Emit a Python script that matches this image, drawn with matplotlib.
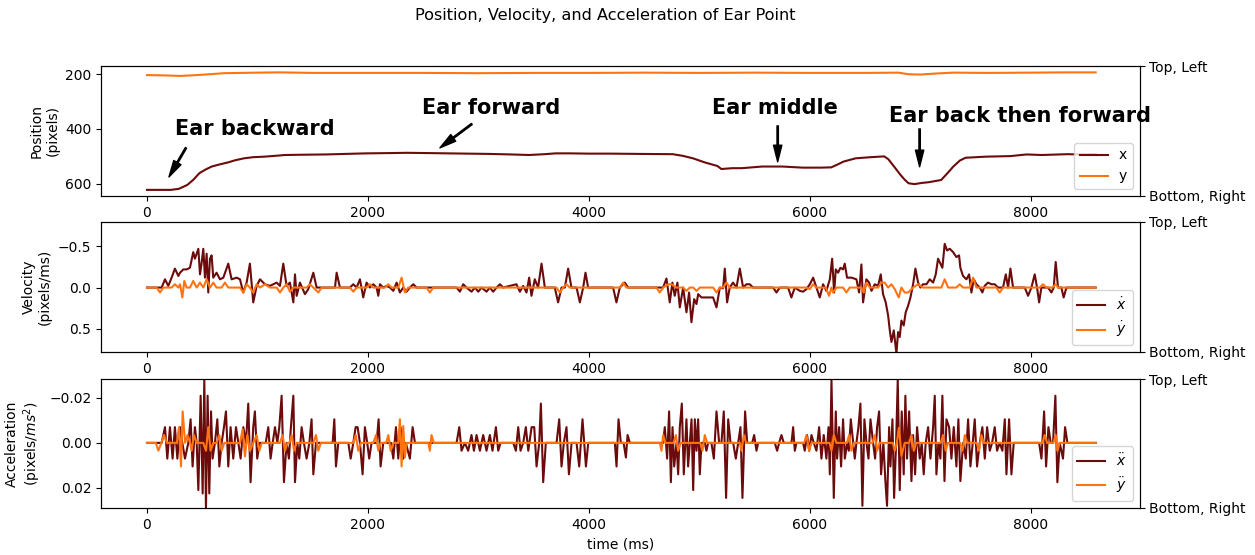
import matplotlib
matplotlib.use("Agg")
import matplotlib.pyplot as plt
import numpy as np

# position of the ear point (pixels)
pos_t = [0, 217, 290, 365, 420, 475, 530, 586, 650, 733, 800, 880, 960, 1064, 1160, 1249, 1400, 1617,
         1800, 1985, 2200, 2354, 2550, 2722, 2900, 3090, 3300, 3459, 3600, 3700, 3827, 4000, 4195, 4445,
         4760, 4850, 4943, 5050, 5164, 5200, 5300, 5385, 5569, 5753, 5937, 6100, 6195, 6250, 6306, 6416,
         6550, 6674, 6711, 6760, 6821, 6860, 6895, 6950, 7010, 7079, 7190, 7250, 7300, 7360, 7411, 7595,
         7816, 7963, 8100, 8331, 8450, 8589]
pos_x = [622, 622, 618, 604, 585, 561, 548, 537, 530, 522, 514, 507, 503, 501, 498, 495, 494, 493,
         491, 489, 488, 487, 488, 489, 490, 491, 493, 495, 492, 489, 489, 490, 490, 491,
         492, 498, 507, 522, 535, 546, 543, 543, 537, 537, 541, 541, 540, 530, 519, 507,
         503, 500, 510, 535, 567, 585, 598, 601, 597, 594, 586, 560, 537, 515, 505, 501,
         499, 493, 495, 492, 493, 492]
posy_t = [0, 150, 300, 450, 700, 1000, 1200, 1500, 2000, 2500, 3000, 3500, 4000, 4500, 5000, 5500,
          6000, 6500, 6800, 6900, 7000, 7150, 7300, 7600, 8000, 8300, 8589]
pos_y = [204, 205, 207, 204, 197, 195, 194, 196, 196, 196, 197, 196, 196, 195, 196, 195,
         196, 196, 195, 201, 202, 198, 195, 196, 195, 194, 194]

# velocity (pixels/ms)
vx_t = [0, 133, 163, 193, 223, 253, 284, 299, 329, 359, 389, 419, 434, 465, 480, 495, 510, 525, 540,
        555, 570, 585, 600, 630, 661, 691, 736, 766, 812, 842, 872, 902, 932, 962, 993, 1023, 1068,
        1113, 1143, 1174, 1204, 1234, 1264, 1294, 1325, 1340, 1355, 1385, 1430, 1460, 1506, 1536,
        1702, 1717, 1747, 1837, 1868, 1898, 1928, 1958, 1988, 2018, 2049, 2079, 2094, 2109, 2139,
        2169, 2200, 2230, 2260, 2290, 2320, 2350, 2380, 2411, 2441, 2803, 2833, 2863, 2893, 2938,
        2969, 2999, 3029, 3074, 3104, 3134, 3165, 3195, 3225, 3345, 3376, 3406, 3436, 3460, 3481,
        3511, 3541, 3572, 3602, 3692, 3722, 3753, 3783, 3813, 3843, 3889, 3919, 3949, 3970, 3994,
        4220, 4250, 4281, 4326, 4356, 4673, 4703, 4733, 4757, 4778, 4802, 4824, 4854, 4884, 4908,
        4929, 4954, 4975, 4990, 5020, 5050, 5095, 5125, 5156, 5186, 5216, 5231, 5252, 5276, 5306,
        5337, 5367, 5397, 5427, 5457, 5487, 5669, 5699, 5729, 5804, 5834, 5865, 5910, 5940, 5970,
        6001, 6031, 6061, 6091, 6121, 6151, 6182, 6203, 6221, 6236, 6257, 6278, 6302, 6317, 6338,
        6378, 6423, 6447, 6468, 6483, 6513, 6538, 6559, 6589, 6619, 6643, 6664, 6688, 6710, 6725,
        6740, 6761, 6785, 6800, 6815, 6830, 6851, 6869, 6891, 6912, 6936, 6957, 6981, 7002, 7026,
        7057, 7087, 7117, 7141, 7162, 7183, 7201, 7222, 7243, 7268, 7298, 7328, 7352, 7364, 7388,
        7419, 7443, 7464, 7485, 7509, 7539, 7563, 7584, 7614, 7645, 7675, 7705, 7750, 7775, 7796,
        7817, 7841, 7947, 7977, 8007, 8037, 8058, 8077, 8097, 8158, 8188, 8209, 8227, 8248, 8278,
        8299, 8324, 8589]
vx = [0, 0, -0.10, -0.02, -0.12, -0.23, -0.14, -0.18, -0.22, -0.22, -0.24, -0.43, -0.35, -0.47, -0.16,
      -0.30, -0.47, -0.12, -0.41, 0.06, -0.35, -0.39, -0.12, -0.18, -0.10, -0.12, -0.29, -0.10, -0.12,
      -0.10, 0.06, -0.06, -0.29, 0.18, -0.02, -0.10, -0.04, -0.02, -0.04, -0.06, -0.02, -0.29, -0.02,
      -0.06, 0.18, -0.16, 0.10, -0.06, 0.08, 0.02, -0.18, 0, 0, -0.18, 0, 0, -0.04, 0, -0.10, 0.12,
      -0.06, 0, -0.04, 0, 0.10, -0.04, 0, -0.02, 0, 0.04, -0.06, 0.06, 0, 0.05, 0, -0.04, 0, 0, 0.05,
      -0.04, 0, 0.05, 0, 0.05, 0, 0.05, 0, 0.05, 0, -0.04, 0, -0.04, 0.05, -0.02, 0.06, -0.12, 0.10,
      -0.10, 0, -0.29, 0, 0, 0.18, 0, 0, -0.23, 0, 0, 0.18, 0, -0.18, 0,
      0, 0.18, 0, -0.06, 0, 0, -0.11, 0.18, -0.06, 0.10, -0.06, 0.24, 0, 0.30, 0.06,
      0.42, 0.14, 0.20, 0.08, 0.12, 0.12, 0.12, 0.12, 0.24, 0, 0.01, -0.23, 0.18, 0, -0.06,
      0, -0.23, 0, -0.04, -0.04, 0, 0, 0.06, 0, 0, 0.12, 0, 0.04, 0.05, 0.02,
      -0.04, -0.12, 0, 0.12, -0.04, 0.04, -0.10, -0.35, 0.06, -0.22, -0.18, -0.24, -0.22, -0.29, -0.12,
      -0.12, -0.10, 0.06, -0.28, 0.18, -0.10, -0.06, 0.04, -0.04, -0.02, -0.16, 0.08, 0.18, 0.34, 0.52,
      0.66, 0.52, 0.80, 0.54, 0.60, 0.40, 0.46, 0.30, 0.22, 0.12, -0.04, -0.23, -0.06, 0, -0.04,
      -0.04, -0.10, -0.06, -0.16, -0.35, -0.29, -0.24, -0.53, -0.45, -0.47, -0.43, -0.37, -0.39, -0.24, -0.14,
      -0.10, -0.16, 0.06, -0.10, -0.04, 0, 0.06, -0.02, -0.06, -0.04, -0.04, 0, 0, -0.16, 0,
      -0.23, 0, 0, 0.10, 0, -0.16, 0, 0.18, 0, 0, 0.06, 0, -0.31, 0, 0,
      0.12, 0, 0]
vy_t = [0, 88, 118, 148, 223, 253, 284, 299, 320, 338, 359, 389, 419, 450, 480, 510, 540, 570, 600,
        630, 676, 706, 736, 842, 872, 902, 932, 962, 993, 1023, 1068, 1113, 1174, 1204, 1234, 1264,
        1294, 1325, 1445, 1475, 1506, 1551, 1581, 1838, 1868, 1898, 1988, 2018, 2049, 2155, 2185,
        2215, 2275, 2305, 2335, 2365, 2531, 2561, 2591, 3707, 3737, 3767, 3797, 3828, 4281, 4311,
        4341, 4612, 4642, 4673, 4718, 4748, 4793, 4854, 4884, 4914, 4945, 4975, 5005, 5126, 5156,
        5186, 5216, 5246, 5276, 5970, 6000, 6030, 6060, 6145, 6175, 6196, 6212, 6242, 6302, 6332,
        6362, 6468, 6489, 6513, 6544, 6619, 6649, 6679, 6710, 6740, 6770, 6806, 6830, 6860, 6891,
        6936, 6981, 7026, 7192, 7222, 7253, 7328, 7358, 7388, 7449, 7479, 7509, 7690, 7720, 7750,
        8082, 8112, 8142, 8197, 8227, 8248, 8589]
vy = [0, 0, 0.06, 0, 0, -0.04, 0, -0.04, 0.12, -0.08, 0, 0, -0.08, 0, -0.06, 0, -0.10, 0, -0.06,
      0, 0, -0.06, 0, 0, 0.06, -0.04, 0, 0.06, -0.04, 0, -0.04, 0, 0, 0.06, 0, -0.04,
      0.05, 0, 0, -0.04, 0, 0.06, 0, 0, 0.05, 0, 0, -0.04, 0, 0, -0.04,
      0, 0, -0.12, 0.06, 0, 0, 0.06, 0, 0, 0.06, 0, -0.04, 0, 0, -0.06,
      0, 0, 0.06, 0, -0.04, -0.04, 0, 0, 0.04, 0, 0, 0.04, 0, 0, 0.06,
      0, 0, -0.06, 0, 0, 0.02, -0.04, 0, 0, 0.10, 0, 0.06, 0, 0, 0.06,
      0, 0, 0.06, -0.06, 0, 0, -0.06, -0.06, 0, -0.04, 0.02, 0.12, 0, 0.06, 0.06,
      0, -0.04, 0, 0, -0.10, 0, 0, -0.04, 0, 0, -0.12, 0, 0, 0.06, 0,
      0, -0.04, 0, 0, -0.04, 0, 0]

# acceleration (pixels/ms^2)
ax_t = [0, 133, 163, 184, 208, 232, 253, 275, 299, 320, 344, 374, 395, 413, 434, 450, 465, 486, 504,
        519, 534, 549, 564, 580, 594, 615, 637, 655, 676, 697, 715, 736, 757, 781, 806, 827, 848,
        872, 896, 917, 938, 962, 977, 998, 1020, 1075, 1098, 1119, 1138, 1159, 1180, 1198, 1219,
        1240, 1264, 1285, 1303, 1325, 1340, 1361, 1379, 1400, 1421, 1445, 1470, 1490, 1506, 1530,
        1681, 1696, 1711, 1732, 1823, 1844, 1868, 1889, 1907, 1928, 1952, 1973, 1994, 2012, 2033,
        2079, 2097, 2115, 2139, 2209, 2230, 2254, 2275, 2296, 2320, 2344, 2380, 2405, 2426, 2803,
        2827, 2848, 2878, 2908, 2938, 2960, 2984, 3014, 3044, 3074, 3104, 3128, 3159, 3180, 3201,
        3316, 3340, 3361, 3382, 3406, 3430, 3452, 3482, 3506, 3527, 3551, 3566, 3587, 3611, 3708,
        3732, 3753, 3774, 3798, 3820, 3844, 3889, 3913, 3943, 3974, 3995, 4236, 4251, 4269, 4290,
        4315, 4336, 4351, 4372, 4673, 4688, 4709, 4727, 4743, 4758, 4773, 4794, 4809, 4824, 4842,
        4860, 4884, 4899, 4915, 4930, 4945, 4960, 4975, 4990, 5005, 5020, 5050, 5065, 5080, 5110,
        5132, 5156, 5180, 5201, 5222, 5243, 5262, 5283, 5307, 5331, 5352, 5373, 5391, 5415, 5434,
        5479, 5497, 5518, 5533, 5684, 5705, 5723, 5744, 5765, 5835, 5850, 5865, 5880, 5940, 5955,
        5976, 5995, 6016, 6037, 6061, 6085, 6106, 6127, 6151, 6170, 6182, 6197, 6218, 6236, 6248,
        6266, 6284, 6302, 6318, 6339, 6354, 6372, 6393, 6408, 6423, 6441, 6459, 6477, 6495, 6514,
        6532, 6550, 6574, 6592, 6610, 6628, 6646, 6667, 6685, 6700, 6719, 6731, 6749, 6764, 6782,
        6797, 6815, 6833, 6851, 6866, 6881, 6900, 6921, 6936, 6954, 6972, 6996, 7014, 7032, 7050,
        7072, 7093, 7117, 7132, 7147, 7165, 7183, 7201, 7220, 7238, 7262, 7283, 7304, 7328, 7346,
        7364, 7389, 7413, 7434, 7455, 7476, 7494, 7515, 7539, 7563, 7585, 7606, 7630, 7651, 7675,
        7696, 7720, 7744, 7766, 7781, 7805, 7826, 7847, 8077, 8098, 8122, 8140, 8161, 8182, 8203,
        8224, 8242, 8263, 8293, 8312, 8333, 8589]
acc_x = [0, 0, -0.007, 0.007, -0.007, 0.007, -0.007, 0.007, -0.007, 0, 0.007, 0, -0.0105, 0.0105,
         -0.007, 0, 0.021, -0.021, 0.0225, -0.028, 0.029, -0.021, 0.0225, -0.014, 0.007, 0, -0.0105,
         0.0105, 0, -0.007, -0.014, 0.0105, -0.007, 0.007, -0.007, 0, 0.007, -0.007, 0, -0.0175,
         0.0175, -0.007, -0.014, 0.007, 0, 0, -0.007, 0.007, 0, -0.007, 0, -0.007, -0.021, 0.0175, 0,
         0.007, -0.007, -0.021, 0.0175, 0, 0.007, -0.007, 0, 0.007, 0, -0.0105, 0.014, 0, 0, -0.0105,
         0.0105, 0, 0, 0.007, 0, -0.007, -0.007, 0, 0.014, -0.007, 0, 0.007, 0, 0, -0.0105, 0.0105,
         0, 0, 0.007, -0.007, 0.007, -0.007, 0.007, 0, 0.007, -0.007, 0, 0, -0.007, 0.0035, 0, 0.0035,
         -0.0035, 0.0035, -0.0035, 0.0035, -0.0035, 0.0035, -0.0035, 0.0035, -0.007, 0.0035, 0, 0,
         0.0035, -0.007, 0.0035, 0, -0.007, 0.0035, -0.007, -0.007, 0.0105, 0, -0.0175, 0.0175, 0, 0,
         -0.0105, 0.0105, 0, -0.007, 0.014, 0, 0, 0.0105, -0.0105, 0.0105, 0, 0, 0.0105, -0.0105, 0,
         0, 0.0065, -0.0035, 0, 0, -0.007, 0.007, -0.014, 0.0175, -0.007, 0.0105, 0, 0.014, -0.007,
         -0.0175, 0.014, -0.0105, 0.0105, 0, -0.0105, 0.021, -0.0105, 0.0035, -0.0105, 0.014, 0, 0,
         0.0035, 0, 0, 0.007, -0.014, 0, 0, -0.014, 0.0245, -0.0105, 0, 0, 0.007, 0, -0.007, 0.0245,
         -0.014, 0, 0, -0.0035, 0.0035, 0, 0, 0.0035, 0, -0.0035, 0, 0, -0.007, 0.0035, 0, 0, 0.0035,
         -0.0035, 0.0035, -0.0035, 0, 0.0035, -0.007, 0.007, -0.0035, 0.007, -0.007, 0.014, -0.028,
         0.0245, -0.014, 0.007, -0.007, 0.0105, -0.0105, 0.007, 0, 0.0035, -0.0105, 0, 0.007, 0,
         -0.007, -0.0175, 0.028, -0.0105, 0, 0.007, -0.0105, 0, 0.007, -0.007, -0.014, 0.014, 0,
         0.017, 0.028, -0.007, 0.0105, -0.0105, 0.0245, 0, -0.028, 0.021, -0.014, 0.014, -0.021,
         0.007, -0.014, 0.017, -0.0035, 0.014, -0.007, 0.007, 0, 0.014, 0, -0.007, 0.007, -0.007,
         -0.021, 0.014, 0, 0.007, -0.021, 0.017, -0.0105, -0.007, 0.007, -0.007, 0.0105, -0.0105,
         0.017, 0, 0.007, -0.0105, 0.0105, 0, -0.0105, 0.0105, 0, -0.007, 0.007, -0.007, 0.0035, 0,
         -0.007, 0.0035, 0, 0.0035, -0.0105, 0.014, -0.0105, 0.014, 0, 0, 0.007, -0.014, 0.0105,
         -0.007, 0, 0, -0.021, 0.0175, 0, 0.007, -0.007, 0, 0]
ay_t = [0, 80, 103, 130, 154, 180, 270, 290, 308, 323, 345, 367, 390, 404, 425, 450, 510, 534, 555,
        576, 600, 630, 655, 676, 700, 842, 866, 887, 908, 932, 962, 993, 1017, 1040, 1204, 1228,
        1249, 1273, 1290, 1310, 1331, 1355, 1506, 1530, 1551, 1575, 1868, 1890, 1913, 1935, 2050,
        2073, 2094, 2115, 2165, 2185, 2206, 2230, 2275, 2290, 2305, 2320, 2335, 2350, 2546, 2561,
        2576, 2597, 4643, 4658, 4673, 4694, 4767, 4788, 4809, 4830, 5010, 5029, 5050, 5071, 5367,
        5382, 5403, 5424, 5950, 5971, 5995, 6016, 6180, 6197, 6218, 6242, 6336, 6357, 6378, 6399,
        6568, 6589, 6610, 6631, 6752, 6770, 6788, 6809, 6830, 6860, 6900, 6921, 6942, 6963, 7186,
        7207, 7231, 7252, 7362, 7383, 7404, 7425, 7512, 7533, 7554, 7575, 8107, 8128, 8149, 8206,
        8227, 8242, 8263, 8589]
acc_y = [0, 0, 0.0035, 0, -0.0035, 0, 0, -0.007, 0.0105, -0.014, 0, -0.0035, 0, 0.0035, -0.0035, 0,
         0, 0.0035, -0.007, 0.0035, 0, 0, -0.0035, 0.0035, 0, 0, -0.006, 0.006, -0.0035, 0.0035, 0,
         -0.0035, 0.0035, 0, 0, -0.0035, 0.0035, 0, 0, -0.0035, 0.0035, 0, 0, -0.0035, 0.0035, 0, 0,
         -0.0035, 0.0035, 0, 0, -0.0035, 0.0035, 0, 0, -0.0035, 0.0035, 0, 0, -0.0105, 0.0105,
         -0.0075, 0.0065, 0, 0, 0.0035, -0.0035, 0, 0, 0.0035, -0.0035, 0, 0, -0.0035, 0.0035, 0, 0,
         0.0035, -0.0035, 0, 0, 0.0035, -0.0035, 0, 0, -0.0035, 0.0035, 0, 0, 0.0035, -0.0035, 0, 0,
         -0.0035, 0.0035, 0, 0, -0.0035, 0.0035, 0, 0, 0.0035, 0, -0.0068, 0.0058, 0, 0, -0.0035,
         0.0035, 0, 0, -0.0035, 0.0035, 0, 0, 0.0035, -0.0035, 0, 0, 0.0035, -0.0035, 0, 0, -0.0035,
         0, 0, -0.0035, 0.0035, 0, 0]

dark = '#6b0b0b'
orange = '#ff7410'

fig = plt.figure(figsize=(12.55, 5.55), dpi=100)
ax1 = fig.add_axes([0.0805, 0.647, 0.8275, 0.234])
ax2 = fig.add_axes([0.0805, 0.366, 0.8275, 0.234])
ax3 = fig.add_axes([0.0805, 0.085, 0.8275, 0.232])

ax1.plot(pos_t, pos_x, color=dark, label='x')
ax1.plot(posy_t, pos_y, color=orange, label='y')
ax1.set_ylim(644, 171)
ax1.set_yticks([200, 400, 600])
ax1.set_ylabel('Position\n(pixels)')

ax2.plot(vx_t, vx, color=dark, label=r'$\dot{x}$')
ax2.plot(vy_t, vy, color=orange, label=r'$\dot{y}$')
ax2.set_ylim(0.78, -0.795)
ax2.set_yticks([-0.5, 0.0, 0.5])
ax2.set_ylabel('Velocity\n(pixels/ms)')

ax3.plot(ax_t, acc_x, color=dark, label=r'$\ddot{x}$')
ax3.plot(ay_t, acc_y, color=orange, label=r'$\ddot{y}$')
ax3.set_ylim(0.0289, -0.0284)
ax3.set_yticks([-0.02, 0.0, 0.02])
ax3.set_ylabel('Acceleration\n(pixels/$ms^2$)')
ax3.set_xlabel('time (ms)')

for a in (ax1, ax2, ax3):
    a.set_xlim(-416, 8986)
    a.set_xticks([0, 2000, 4000, 6000, 8000])
    a.legend(loc='lower right')
    tw = a.twinx()
    lo, hi = a.get_ylim()
    tw.set_ylim(lo, hi)
    tw.set_yticks([hi, lo])
    tw.set_yticklabels(['Top, Left', 'Bottom, Right'])

# annotations on the position panel
notes = [('Ear backward', (253, 422), (199, 575), (353, 469)),
         ('Ear forward', (2489, 345), (2652, 469), (2941, 382)),
         ('Ear middle', (5113, 345), (5710, 520), (5710, 389)),
         ('Ear back then forward', (6715, 375), (6995, 538), (6995, 400))]
for txt, tpos, tip, tail in notes:
    ax1.text(tpos[0], tpos[1], txt, fontsize=15, fontweight='bold', va='baseline', ha='left')
    ax1.annotate('', xy=tip, xytext=tail,
                 arrowprops=dict(facecolor='black', width=1, headwidth=6, headlength=12, shrink=0.0))

fig.suptitle('Position, Velocity, and Acceleration of Ear Point', x=0.482, y=0.985, fontsize=11.6)

fig.savefig('out.png', dpi=100)
